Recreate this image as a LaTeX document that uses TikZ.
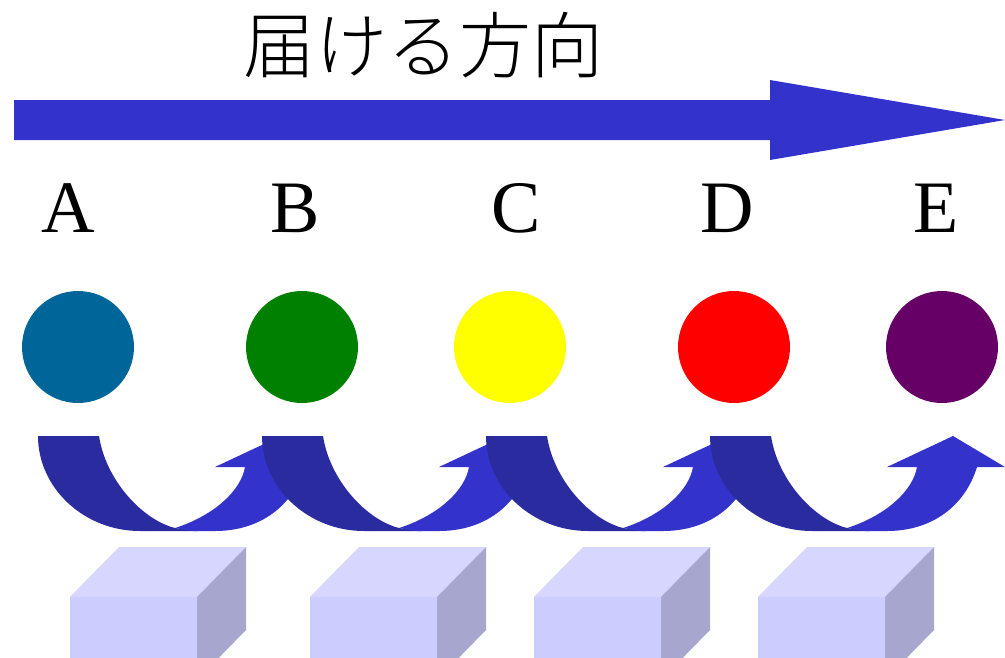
\documentclass[tikz,border=0pt]{standalone}
\usepackage{fontspec}
\setmainfont{Liberation Serif}
\newfontfamily\jpfont{Noto Sans CJK JP Light}
\definecolor{arrowblue}{HTML}{3333CC}
\definecolor{arrowdark}{HTML}{2B2BA0}
\definecolor{cA}{HTML}{006699}
\definecolor{cB}{HTML}{008000}
\definecolor{cC}{HTML}{FFFF00}
\definecolor{cD}{HTML}{FF0000}
\definecolor{cE}{HTML}{660066}
\definecolor{boxfront}{HTML}{CCCCFF}
\definecolor{boxtop}{HTML}{D6D6FF}
\definecolor{boxside}{HTML}{A6A6CF}
\tikzset{
  dot/.style={circle, minimum size=112pt, inner sep=0pt},
  letter/.style={anchor=base, inner sep=0pt, font=\fontsize{74}{80}\selectfont},
  titletext/.style={inner sep=0pt, font=\jpfont\fontsize{72}{80}\selectfont},
}
\begin{document}
\begin{tikzpicture}[x=1pt,y=-1pt]
\useasboundingbox (0,0) rectangle (1005,657);
\clip (0,0) rectangle (1005,657);
% title
\node[titletext] (title) at (423,45) {届ける方向};
% big arrow
\fill[arrowblue] (14,100) -- (770,100) -- (770,80) -- (1005,120) -- (770,160) -- (770,140) -- (14,140) -- cycle;
% letters
\node[letter] (lA) at (68,232) {A};
\node[letter] (lB) at (295,232) {B};
\node[letter] (lC) at (516,232) {C};
\node[letter] (lD) at (727,232) {D};
\node[letter] (lE) at (936,232) {E};
% circles
\node[dot, fill=cA] (dA) at (78,347) {};
\node[dot, fill=cB] (dB) at (302,347) {};
\node[dot, fill=cC] (dC) at (510,347) {};
\node[dot, fill=cD] (dD) at (734,347) {};
\node[dot, fill=cE] (dE) at (942,347) {};
% curved arrows
\foreach \xo in {38,262,486,710}{
  \begin{scope}[shift={(\xo,436)}]
    \fill[arrowdark] (0,0) -- (61,0) .. controls (68,45) and (105,84) .. (137,92)
      -- (160,95) -- (102,95) .. controls (46,95) and (0,52) .. (0,0) -- cycle;
    \fill[arrowblue] (137,92) .. controls (175,80) and (203,55) .. (207,31)
      -- (177,31) -- (243,0) -- (295,31) -- (267,31)
      .. controls (255,70) and (222,95) .. (177,95) -- (155,95) -- cycle;
  \end{scope}
}
% boxes
\foreach \bx in {70,310,534,758}{
  \fill[boxfront] (\bx,597) rectangle (\bx+127,680);
  \fill[boxtop] (\bx,597) -- (\bx+49,547) -- (\bx+176,547) -- (\bx+127,597) -- cycle;
  \fill[boxside] (\bx+127,597) -- (\bx+176,547) -- (\bx+176,630) -- (\bx+127,680) -- cycle;
}
\end{tikzpicture}
\end{document}
